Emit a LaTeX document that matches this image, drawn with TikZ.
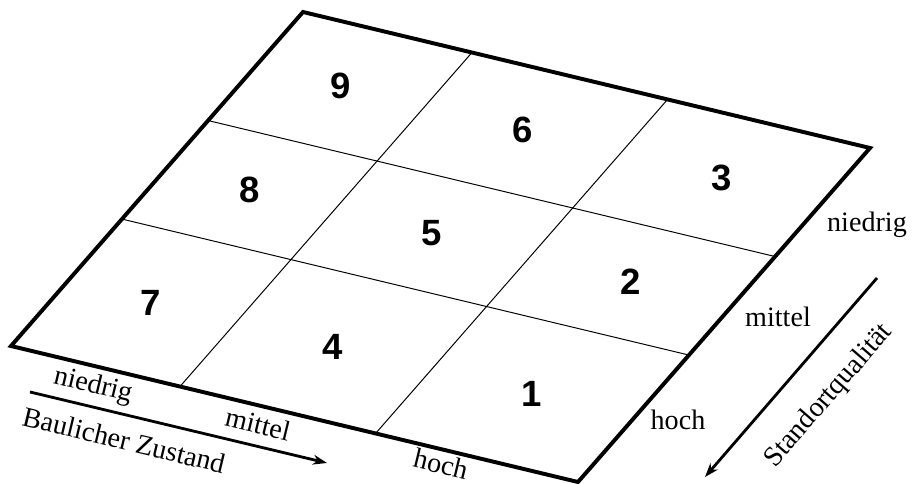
\documentclass[tikz,border=0pt]{standalone}
\usepackage{fontspec}
\setmainfont{Liberation Serif}
\newfontfamily\zahlfont{Liberation Sans}
\usetikzlibrary{arrows.meta}

\begin{document}
\begin{tikzpicture}[
    x=1cm,
    y=1cm,
    >={Stealth[length=10pt,width=7pt]},
    rahmen/.style={line width=2.8pt},
    teilung/.style={line width=0.7pt},
    zahl/.style={font=\zahlfont\bfseries\fontsize{26}{26}\selectfont},
    stufe/.style={font=\fontsize{20}{20}\selectfont},
    achse/.style={->,line width=2pt}
]
    \useasboundingbox (0,0) rectangle (22.8,12.1);

    % Portfolio-Matrix in schraeger Lage
    \begin{scope}[shift={(0.275,3.45)}, x={(14.175cm,-3.4cm)}, y={(7.3cm,8.35cm)}]
        \foreach \a in {0.298,0.643}
            \draw[teilung] (\a,0) -- (\a,1);
        \foreach \b in {0.38,0.675}
            \draw[teilung] (0,\b) -- (1,\b);
        \draw[rahmen] (0,0) -- (1,0) -- (1,1) -- (0,1) -- cycle;

        \node[zahl] (feld-7) at (0.149,0.19) {7};
        \node[zahl] (feld-4) at (0.470,0.19) {4};
        \node[zahl] (feld-1) at (0.821,0.19) {1};
        \node[zahl] (feld-8) at (0.149,0.528) {8};
        \node[zahl] (feld-5) at (0.470,0.528) {5};
        \node[zahl] (feld-2) at (0.821,0.528) {2};
        \node[zahl] (feld-9) at (0.149,0.838) {9};
        \node[zahl] (feld-6) at (0.470,0.838) {6};
        \node[zahl] (feld-3) at (0.821,0.838) {3};
    \end{scope}

    % Achse unten
    \node[stufe, rotate=-13.5] (bz-niedrig) at (2.325,2.45) {niedrig};
    \node[stufe, rotate=-13.5] (bz-mittel) at (6.45,1.5) {mittel};
    \node[stufe, rotate=-13.5] (bz-hoch) at (11.025,0.5) {hoch};
    \node[stufe, rotate=-13.5] (bz-titel) at (3.1,1.1) {Baulicher Zustand};
    \coordinate (bz-start) at (0.75,2.3);
    \coordinate (bz-ende) at (8.175,0.525);
    \draw[achse] (bz-start) -- (bz-ende);

    % Achse rechts
    \node[stufe, anchor=base] (sq-niedrig) at (21.675,6.3) {niedrig};
    \node[stufe, anchor=base] (sq-mittel) at (19.45,3.925) {mittel};
    \node[stufe, anchor=base] (sq-hoch) at (16.95,1.35) {hoch};
    \node[stufe, rotate=49] (sq-titel) at (20.725,2.2) {Standortqualität};
    \coordinate (sq-start) at (21.925,5.15);
    \coordinate (sq-ende) at (17.625,0.175);
    \draw[achse] (sq-start) -- (sq-ende);
\end{tikzpicture}
\end{document}
